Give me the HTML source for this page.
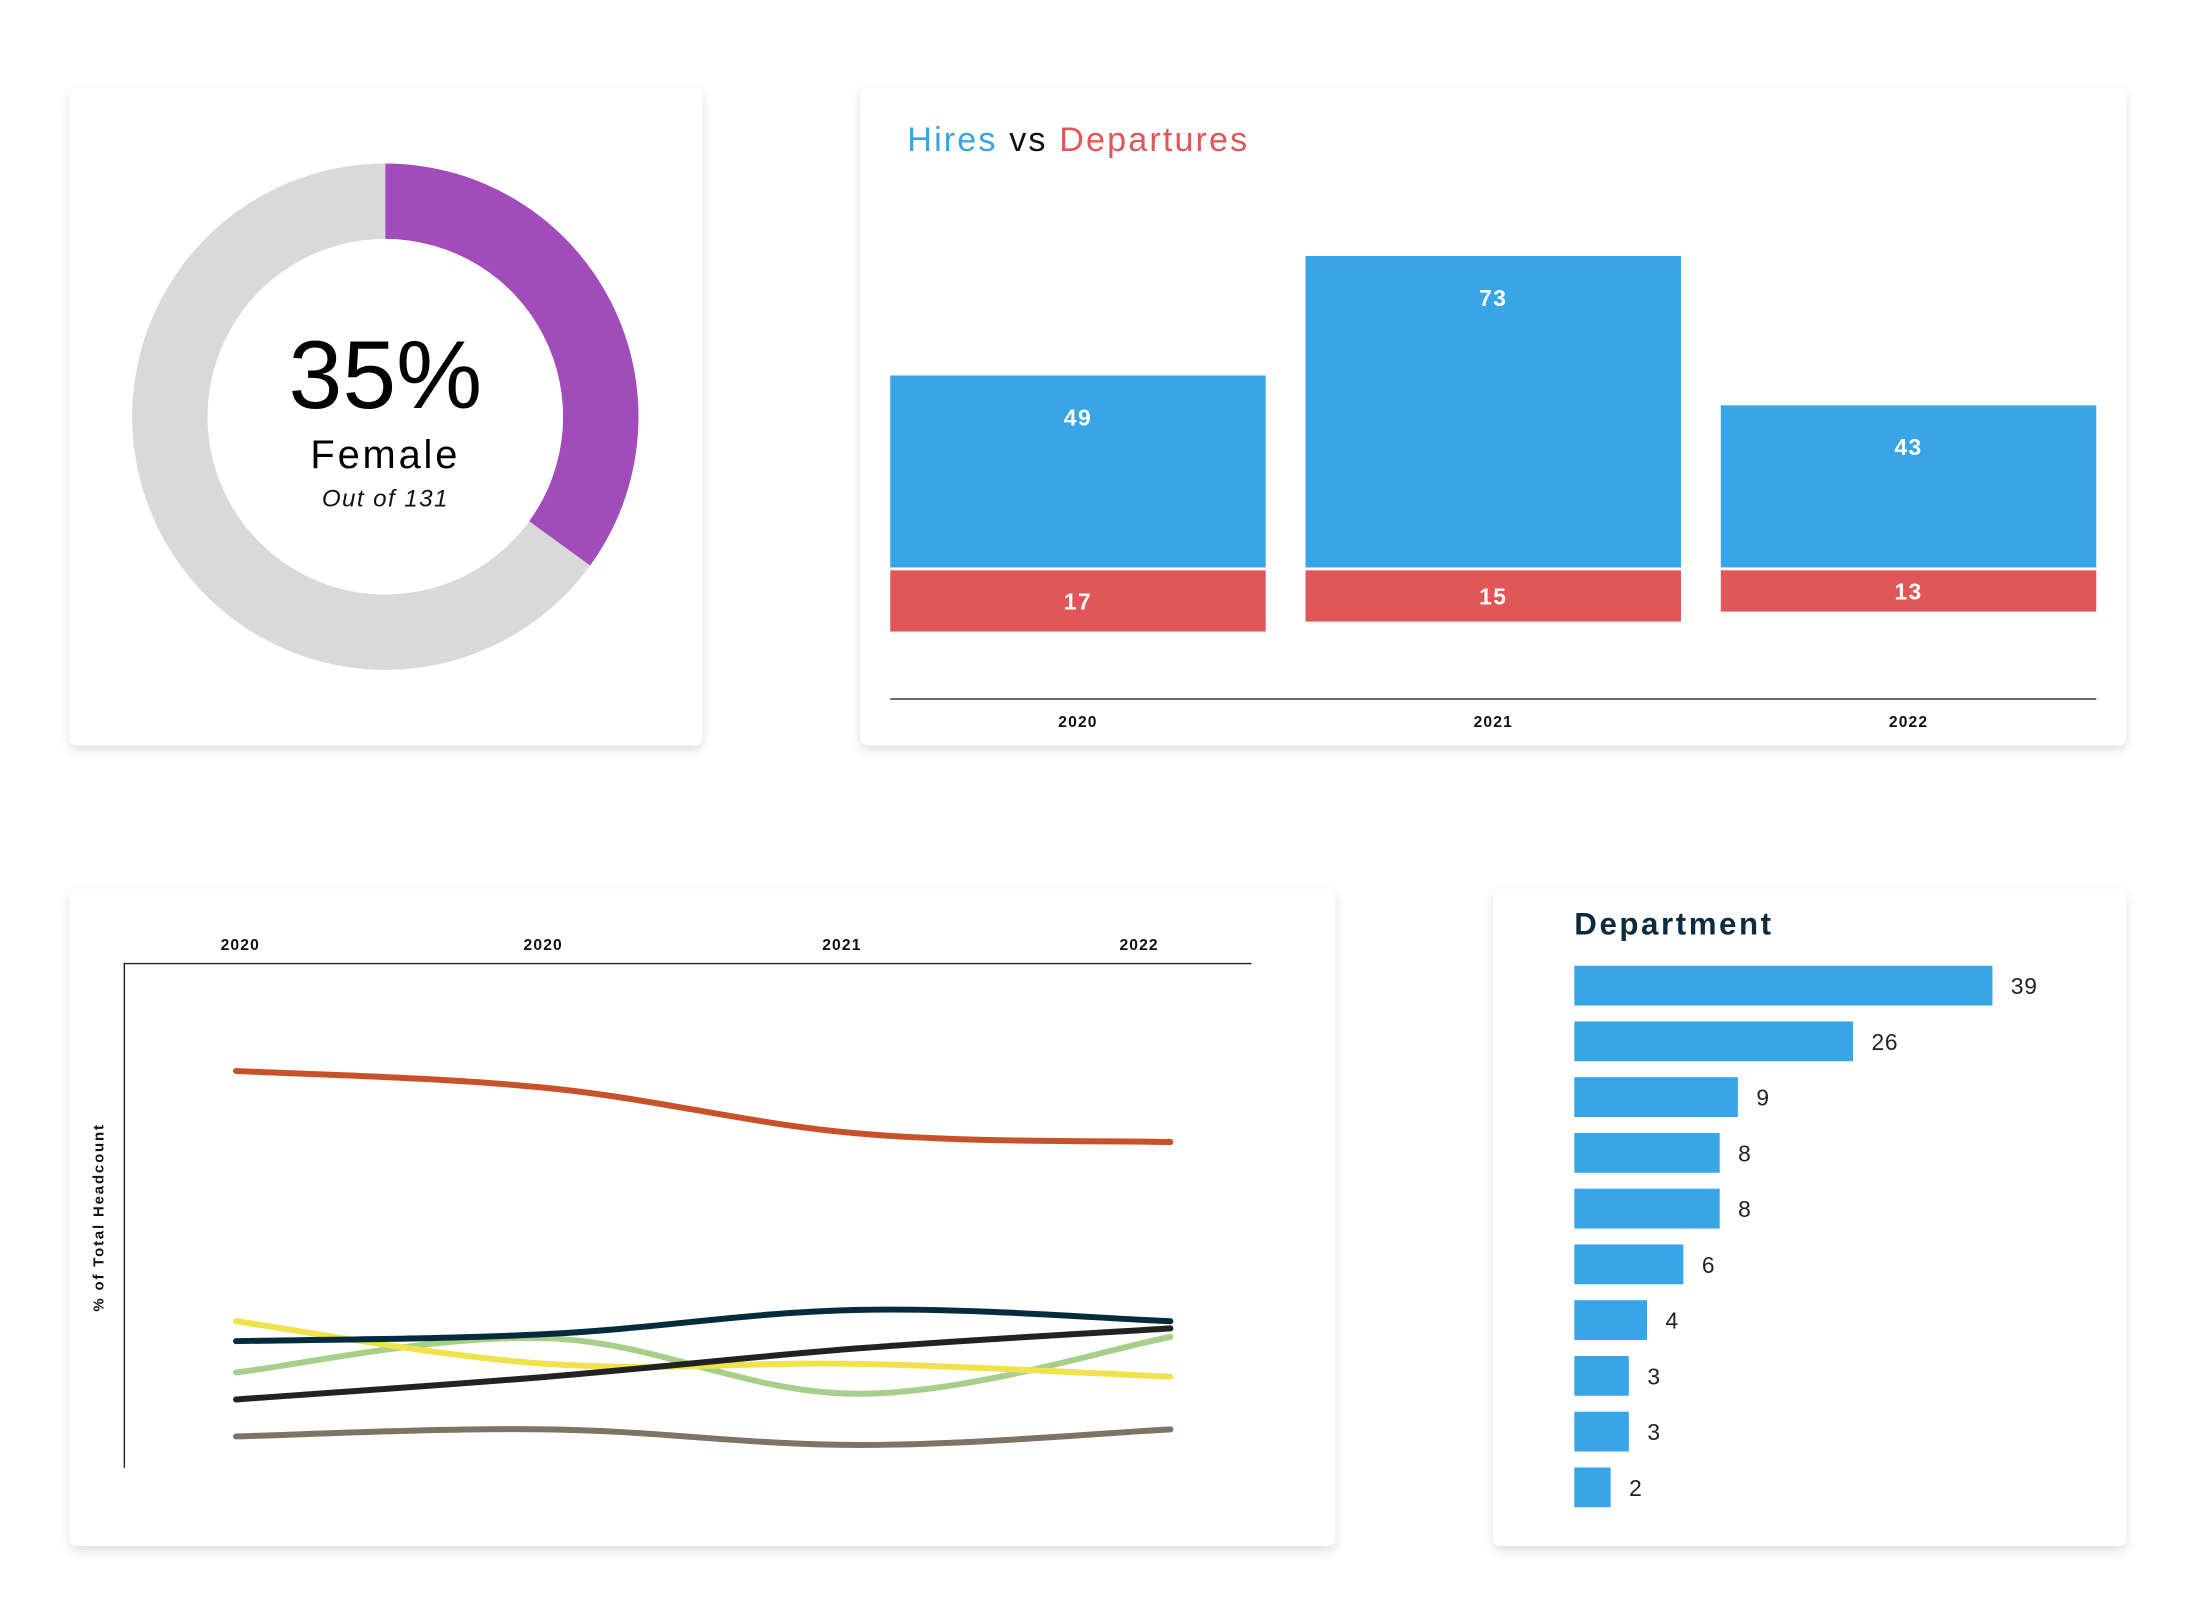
<!DOCTYPE html>
<html><head><meta charset="utf-8"><style>
html,body{margin:0;padding:0;background:#fff;}
svg{display:block;font-family:"Liberation Sans",sans-serif;}
</style></head><body>
<svg id="root" width="2200" height="1600" viewBox="0 0 1545 1125" xmlns="http://www.w3.org/2000/svg">
<defs>
<filter id="sh" x="-10%" y="-10%" width="120%" height="125%">
<feDropShadow dx="0" dy="3" stdDeviation="4" flood-color="#000" flood-opacity="0.13"/>
</filter>
</defs>
<rect x="0" y="0" width="1545" height="1125" fill="#fff"/>
<rect x="48" y="62" width="445" height="462" rx="5" fill="#fff" filter="url(#sh)"/>
<rect x="604" y="62" width="890" height="462" rx="5" fill="#fff" filter="url(#sh)"/>
<rect x="48" y="625" width="890" height="462" rx="5" fill="#fff" filter="url(#sh)"/>
<rect x="1049" y="625" width="445" height="462" rx="5" fill="#fff" filter="url(#sh)"/>

<g id="donut"></g>
<text x="270" y="287" text-anchor="middle" font-size="68" fill="#000">35%</text>
<text x="270" y="329" text-anchor="middle" font-size="28" letter-spacing="2" fill="#000">Female</text>
<text x="270" y="356" text-anchor="middle" font-size="17" font-style="italic" letter-spacing="1" fill="#111">Out of 131</text>

<text x="637" y="106" font-size="24" letter-spacing="1.5"><tspan fill="#38a6e6">Hires</tspan><tspan fill="#111"> vs </tspan><tspan fill="#e05659">Departures</tspan></text>
<g id="hd"></g>
<line x1="625" y1="491.5" x2="1473" y2="491.5" stroke="#555" stroke-width="1.2"/>

<g id="lc"></g>
<line x1="86" y1="677.5" x2="879" y2="677.5" stroke="#222" stroke-width="1"/>
<line x1="86.5" y1="677" x2="86.5" y2="1032" stroke="#222" stroke-width="1"/>
<text transform="translate(72,856) rotate(-90)" text-anchor="middle" font-size="10.5" font-weight="bold" letter-spacing="1.3" fill="#111">% of Total Headcount</text>

<text x="1106" y="657" font-size="22" font-weight="bold" letter-spacing="1.8" fill="#0d2b3e">Department</text>
<g id="dept"></g>
</svg>
<script>
const NS="http://www.w3.org/2000/svg";
function mk(tag,attrs,parent){const e=document.createElementNS(NS,tag);for(const k in attrs)e.setAttribute(k,attrs[k]);parent.appendChild(e);return e;}

// donut data
const femaleShare=[35];
// hires vs departures data
const years=["2020","2021","2022"];
const hires=[49,73,43];
const departures=[17,15,13];
// headcount lines data
const lineCats=["2020","2020","2021","2022"];
const seriesOrange=[55.8,53.4,47,45.8];
const seriesNavy=[17.8,18.8,22.2,20.6];
const seriesYellow=[20.6,14.6,14.6,12.8];
const seriesGreen=[13.4,18.2,10.4,18.4];
const seriesBlack=[9.6,12.8,16.8,19.6];
const seriesGray=[4.4,5.4,3.2,5.4];
// department data
const deptValues=[39,26,9,8,8,6,4,3,3,2];

// ---- donut
(function(){
const g=document.getElementById('donut');
const cx=270,cy=293,R=178,r=125;
function arc(a0,a1){
 const p=(a,rad)=>[cx+rad*Math.sin(a),cy-rad*Math.cos(a)];
 const large=(a1-a0)>Math.PI?1:0;
 const [x0,y0]=p(a0,R),[x1,y1]=p(a1,R),[x2,y2]=p(a1,r),[x3,y3]=p(a0,r);
 return `M${x0},${y0}A${R},${R} 0 ${large} 1 ${x1},${y1}L${x2},${y2}A${r},${r} 0 ${large} 0 ${x3},${y3}Z`;
}
const a=femaleShare[0]/100*2*Math.PI;
const rest=mk('path',{d:arc(a,2*Math.PI-1e-6),fill:'#d9d9d9'},g);


const fem=mk('path',{d:arc(0,a),fill:'#a24bbb'},g);


})();

// ---- hires vs departures
(function(){
const g=document.getElementById('hd');
const x0=625,band=292,bw=264,base=399,dtop=401;
const hy=v=>3.5*(v-10.43);
const dy=v=>3.5*(v-4.7);
years.forEach((y,i)=>{
 const x=x0+i*band;
 const h=hy(hires[i]);
 const hb=mk('rect',{x:x,y:base-h,width:bw,height:h,fill:'#38a6e6'},g);
 
 
 const ht=mk('text',{x:x+bw/2,y:base-h+35,'text-anchor':'middle','font-size':16,'font-weight':'bold',fill:'#fff','letter-spacing':1},g);
 ht.textContent=hires[i];
 
 
 const d=dy(departures[i]);
 const db=mk('rect',{x:x,y:dtop,width:bw,height:d,fill:'#e05659'},g);
 
 
 const dt=mk('text',{x:x+bw/2,y:dtop+d/2+6,'text-anchor':'middle','font-size':16,'font-weight':'bold',fill:'#fff','letter-spacing':1},g);
 dt.textContent=departures[i];
 
 
 const yl=mk('text',{x:x+bw/2,y:511,'text-anchor':'middle','font-size':11,'font-weight':'bold',fill:'#111','letter-spacing':0.8},g);
 yl.textContent=y;
 
 
});
})();

// ---- line chart
(function(){
const g=document.getElementById('lc');
const labelX=[168,381,591,800];
lineCats.forEach((c,i)=>{
 const t=mk('text',{x:labelX[i],y:668,'text-anchor':'middle','font-size':11,'font-weight':'bold',fill:'#111','letter-spacing':0.8},g);
 t.textContent=c;
 
 
});
const xs=i=>165+i*219;
const ys=v=>1032-5*v;
function smooth(vals){
 const P=vals.map((v,i)=>[xs(i),ys(v)]);
 let d=`M${P[0][0]},${P[0][1]}`;
 for(let i=0;i<P.length-1;i++){
  const p0=P[i-1]||P[i],p1=P[i],p2=P[i+1],p3=P[i+2]||P[i+1];
  const t=0.18;
  const c1=[p1[0]+(p2[0]-p0[0])*t,p1[1]+(p2[1]-p0[1])*t];
  const c2=[p2[0]-(p3[0]-p1[0])*t,p2[1]-(p3[1]-p1[1])*t];
  d+=`C${c1[0]},${c1[1]} ${c2[0]},${c2[1]} ${p2[0]},${p2[1]}`;
 }
 return d;
}
const S=[["gray",seriesGray,"#7e7464"],["green",seriesGreen,"#a8cf8a"],["yellow",seriesYellow,"#f0e24a"],["black",seriesBlack,"#222"],["navy",seriesNavy,"#062b3d"],["orange",seriesOrange,"#c8512a"]];
S.forEach(([n,vals,col])=>{
 const p=mk('path',{d:smooth(vals),fill:'none',stroke:col,'stroke-width':4.2,'stroke-linecap':'round'},g);
 
 
});
})();

// ---- department bars
(function(){
const g=document.getElementById('dept');
const dom=[0,9,26,39],rng=[0,115,196,294];
const xw=v=>{for(let i=1;i<dom.length;i++){if(v<=dom[i]||i==dom.length-1){return rng[i-1]+(v-dom[i-1])/(dom[i]-dom[i-1])*(rng[i]-rng[i-1]);}}};
deptValues.forEach((v,i)=>{
 const y=679+i*39.2;
 const w=xw(v);
 const b=mk('rect',{x:1106,y:y,width:w,height:28,fill:'#38a6e6'},g);
 
 
 const t=mk('text',{x:1106+w+13,y:y+20,'font-size':16,fill:'#222','letter-spacing':0.5},g);
 t.textContent=v;
 
 
});
})();
</script>
</body></html>
